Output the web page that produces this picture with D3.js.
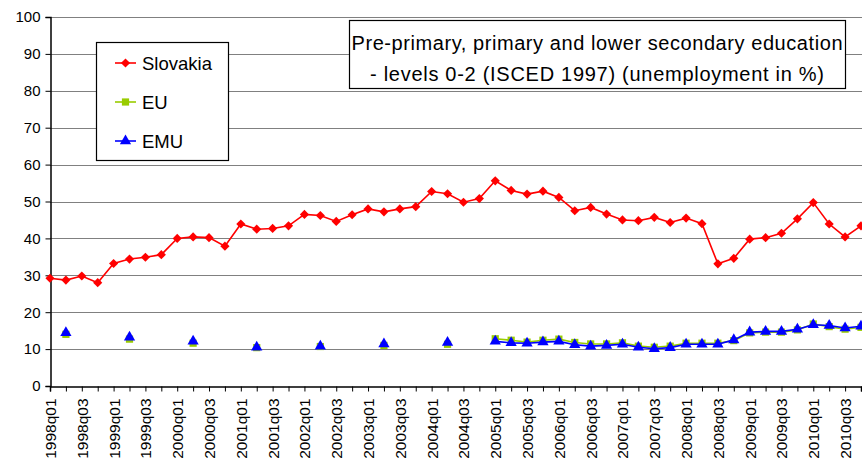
<!DOCTYPE html>
<html>
<head>
<meta charset="utf-8">
<script src="https://cdn.jsdelivr.net/npm/d3@7"></script>
<style>
  body { margin: 0; background: #fff; }
  svg { display: block; font-family: "Liberation Sans", Arial, sans-serif; }
</style>
</head>
<body>
<div id="chart"></div>
<script>
// quarters 1998q01 .. 2010q04
const years = d3.range(1998, 2011);
const quarters = years.flatMap(y => ['q01', 'q02', 'q03', 'q04'].map(q => y + q));

const slovakia = [
  29.2, 28.7, 29.8, 28.0, 33.2, 34.4, 34.9, 35.6,
  40.0, 40.4, 40.2, 37.9, 43.9, 42.5, 42.7, 43.4,
  46.5, 46.2, 44.6, 46.4, 48.0, 47.2, 48.0, 48.6,
  52.7, 52.1, 49.8, 50.8, 55.6, 53.0, 52.0, 52.8,
  51.1, 47.5, 48.4, 46.6, 45.0, 44.8, 45.7, 44.3,
  45.5, 44.0, 33.1, 34.6, 39.8, 40.2, 41.4, 45.3,
  49.7, 43.9, 40.4, 43.4
];

// annual values (q02) until 2004, quarterly after
const eu = [
  null, 14.0, null, null, null, 12.7, null, null,
  null, 11.6, null, null, null, 10.4, null, null,
  null, 10.7, null, null, null, 11.0, null, null,
  null, 11.3, null, null, 12.8, 12.4, 11.9, 12.4,
  12.7, 11.8, 11.4, 11.4, 11.7, 10.8, 10.5, 10.8,
  11.6, 11.6, 11.6, 12.3, 14.4, 14.6, 14.6, 15.2,
  16.8, 16.1, 15.4, 15.9
];

const emu = [
  null, 14.4, null, null, null, 13.2, null, null,
  null, 12.1, null, null, null, 10.5, null, null,
  null, 10.8, null, null, null, 11.4, null, null,
  null, 11.8, null, null, 12.1, 11.7, 11.6, 11.9,
  12.1, 11.2, 10.8, 11.0, 11.3, 10.5, 10.1, 10.4,
  11.3, 11.3, 11.3, 12.5, 14.6, 14.8, 14.8, 15.4,
  16.6, 16.4, 15.7, 16.2
];

const yTicks = d3.range(0, 101, 10);
const titleLines = [
  'Pre-primary, primary and lower secondary education',
  '- levels 0-2 (ISCED 1997) (unemployment in %)'
];
const titleWidths = [491, 454];

// diamond = square turned 45 degrees
const series = [
  { name: 'Slovakia', values: slovakia, color: '#ff0000', symbol: d3.symbolSquare, size: 42, rot: 45 },
  { name: 'EU', values: eu, color: '#99cc00', symbol: d3.symbolSquare, size: 52, rot: 0 },
  { name: 'EMU', values: emu, color: '#0000ff', symbol: d3.symbolTriangle, size: 55, rot: 0 }
];

const width = 862, height = 462;
const margin = { top: 17, right: 1, bottom: 76, left: 50 };

const svg = d3.select('#chart').append('svg')
  .attr('width', width)
  .attr('height', height);

const x = d3.scalePoint()
  .domain(quarters)
  .range([margin.left, width - margin.right]);

const y = d3.scaleLinear()
  .domain([0, 100])
  .range([height - margin.bottom, margin.top]);

// gridlines
svg.append('g')
  .selectAll('line')
  .data(yTicks.filter(d => d > 0))
  .join('line')
  .attr('x1', margin.left)
  .attr('x2', width)
  .attr('y1', d => Math.round(y(d)) + 0.5)
  .attr('y2', d => Math.round(y(d)) + 0.5)
  .attr('stroke', '#808080')
  .attr('stroke-width', 1.2);

// y axis
const yAxis = svg.append('g')
  .attr('transform', `translate(${margin.left + 0.5},0)`)
  .call(d3.axisLeft(y).tickValues(yTicks).tickSize(5).tickPadding(5));
yAxis.select('.domain').attr('stroke', '#000').attr('stroke-width', 1.5);
yAxis.selectAll('.tick line').attr('stroke', '#000');
yAxis.selectAll('.tick text')
  .attr('font-size', 15)
  .attr('font-family', '"Liberation Sans", Arial, sans-serif')
  .attr('fill', '#000');

// x axis
const xAxis = svg.append('g')
  .attr('transform', `translate(0,${Math.round(y(0)) + 0.5})`)
  .call(d3.axisBottom(x)
    .tickValues(quarters)
    .tickSize(5)
    .tickFormat((d, i) => i % 2 === 0 ? d : ''));
xAxis.select('.domain').attr('stroke', '#000').attr('stroke-width', 1.5);
xAxis.selectAll('.tick line').attr('stroke', '#000');
xAxis.selectAll('.tick text')
  .attr('font-size', 15.5)
  .attr('font-family', '"Liberation Sans", Arial, sans-serif')
  .attr('fill', '#000')
  .attr('transform', 'rotate(-90)')
  .attr('text-anchor', 'end')
  .attr('x', -12)
  .attr('y', 0)
  .attr('dy', '0.35em');

function marker(s) {
  return d3.symbol().type(s.symbol).size(s.size)();
}

// series lines and markers
series.forEach(s => {
  const has = i => s.values[i] !== null && s.values[i] !== undefined;
  const line = d3.line()
    .defined((d, i) => has(i) && (has(i - 1) || has(i + 1)))
    .x((d, i) => x(quarters[i]))
    .y(d => y(d));

  svg.append('path')
    .datum(s.values)
    .attr('fill', 'none')
    .attr('stroke', s.color)
    .attr('stroke-width', 1.6)
    .attr('d', line);

  svg.append('g')
    .selectAll('path')
    .data(s.values.map((v, i) => ({ v, q: quarters[i] })).filter(d => d.v !== null))
    .join('path')
    .attr('transform', d => `translate(${x(d.q)},${y(d.v)}) rotate(${s.rot})`)
    .attr('d', marker(s))
    .attr('fill', s.color);
});

// legend
const legend = svg.append('g').attr('transform', 'translate(96,42)');
legend.append('rect')
  .attr('x', 0.5).attr('y', 0.5)
  .attr('width', 132).attr('height', 118)
  .attr('fill', '#fff')
  .attr('stroke', '#000')
  .attr('stroke-width', 1.2);

series.forEach((s, i) => {
  const g = legend.append('g').attr('transform', `translate(0,${21 + i * 39})`);
  g.append('line')
    .attr('x1', 19).attr('x2', 40)
    .attr('stroke', s.color).attr('stroke-width', 1.6);
  g.append('path')
    .attr('transform', `translate(29.5,0) rotate(${s.rot})`)
    .attr('d', marker(s))
    .attr('fill', s.color);
  g.append('text')
    .attr('x', 46)
    .attr('dy', '0.36em')
    .attr('font-size', 18.5)
    .text(s.name);
});

// title box
const title = svg.append('g').attr('transform', 'translate(349,20)');
title.append('rect')
  .attr('x', 0.5).attr('y', 0.5)
  .attr('width', 496).attr('height', 68)
  .attr('fill', '#fff')
  .attr('stroke', '#000')
  .attr('stroke-width', 1.2);
title.selectAll('text')
  .data(titleLines)
  .join('text')
  .attr('x', 248)
  .attr('y', (d, i) => 23 + i * 31)
  .attr('dy', '0.36em')
  .attr('text-anchor', 'middle')
  .attr('font-size', 20)
  .attr('textLength', (d, i) => titleWidths[i])
  .attr('lengthAdjust', 'spacing')
  .text(d => d);
</script>
</body>
</html>
